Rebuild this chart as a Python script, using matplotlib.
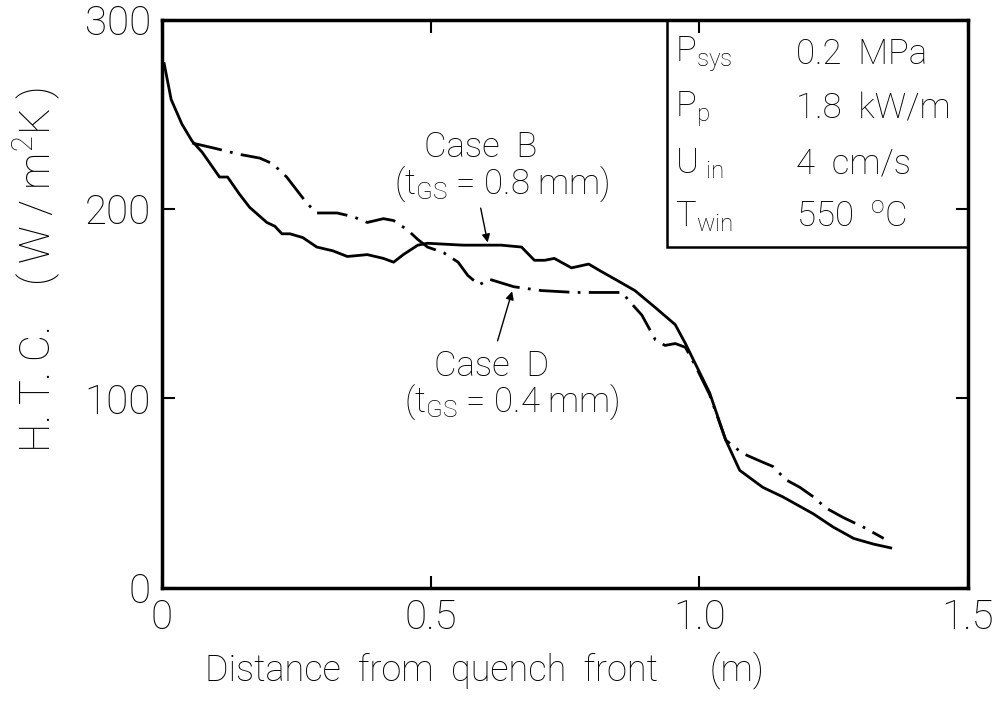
import matplotlib
matplotlib.use("Agg")
import matplotlib.pyplot as plt
from matplotlib.patches import Rectangle

# Case B (t_GS = 0.8 mm), solid line
case_b_x = [0.004, 0.017, 0.037, 0.056, 0.075, 0.107, 0.122, 0.144, 0.163, 0.195,
            0.210, 0.223, 0.238, 0.262, 0.288, 0.318, 0.345, 0.382, 0.412, 0.431,
            0.449, 0.476, 0.494, 0.560, 0.631, 0.669, 0.693, 0.712, 0.730, 0.762,
            0.794, 0.818, 0.843, 0.880, 0.918, 0.955, 0.974, 0.993, 1.019, 1.049,
            1.075, 1.118, 1.155, 1.212, 1.249, 1.287, 1.324, 1.356]
case_b_y = [277, 258, 245, 236, 230, 217, 217, 208, 201, 193,
            191, 187, 187, 185, 180, 178, 175, 176, 174, 172,
            176, 181, 182, 181, 181, 180, 173, 173, 174, 169,
            171, 167, 163, 157, 148, 139, 129, 118, 103, 78,
            62, 53, 48, 39, 32, 26, 23, 21]

# Case D (t_GS = 0.4 mm), dash-dot line
case_d_x = [0.056, 0.101, 0.144, 0.182, 0.206, 0.232, 0.251, 0.270, 0.288, 0.307,
            0.326, 0.356, 0.382, 0.412, 0.431, 0.457, 0.476, 0.494, 0.524, 0.551,
            0.569, 0.590, 0.609, 0.655, 0.706, 0.768, 0.837, 0.856, 0.874, 0.893,
            0.918, 0.936, 0.955, 0.974, 0.993, 1.019, 1.049, 1.080, 1.112, 1.137,
            1.161, 1.187, 1.212, 1.236, 1.268, 1.305, 1.343]
case_d_y = [235, 232, 229, 227, 224, 217, 210, 203, 198, 198,
            198, 196, 193, 195, 194, 189, 184, 180, 177, 172,
            165, 160, 163, 159, 157, 156, 156, 156, 150, 144,
            131, 128, 129, 127, 117, 102, 78, 71, 67, 64,
            57, 53, 48, 42, 37, 32, 26]

x_ticks = [0, 0.5, 1.0, 1.5]
x_tick_labels = ["0", "0.5", "1.0", "1.5"]
y_ticks = [0, 100, 200, 300]
y_tick_labels = ["0", "100", "200", "300"]

table_names = [r"P$_{\rm sys}$", r"P$_{\rm p}$", r"U$_{\rm\ in}$", r"T$_{\rm win}$"]
table_values = ["0.2  MPa", "1.8  kW/m", "4  cm/s", r"550  $^{\rm o}$C"]

plt.rcParams["font.family"] = ["Roboto", "DejaVu Sans"]
plt.rcParams["font.weight"] = "light"
plt.rcParams["axes.labelweight"] = "light"
plt.rcParams["mathtext.fontset"] = "custom"
plt.rcParams["mathtext.rm"] = "Roboto:light"
plt.rcParams["mathtext.it"] = "Roboto:light"

fig = plt.figure(figsize=(9.97, 7.14), dpi=100)
ax = fig.add_axes([0.1625, 0.177, 0.8085, 0.795])

ax.plot(case_b_x, case_b_y, color="black", lw=2.0, solid_joinstyle="round")
ax.plot(case_d_x, case_d_y, color="black", lw=2.0,
        linestyle=(0, (11, 3, 1, 3)))

ax.set_xlim(0, 1.5)
ax.set_ylim(0, 300)
ax.set_xticks(x_ticks)
ax.set_xticklabels(x_tick_labels)
ax.set_yticks(y_ticks)
ax.set_yticklabels(y_tick_labels)
ax.tick_params(direction="in", length=9, width=1.5, labelsize=29,
               top=True, right=True, pad=8)
for spine in ax.spines.values():
    spine.set_linewidth(2.5)

ax.set_xlabel("Distance  from  quench  front      (m)", fontsize=26,
              fontweight="light")
ax.xaxis.set_label_coords(0.40, -0.112)
ax.set_ylabel(r"H. T. C.    ( W / m$^{\rm 2}$K )", fontsize=30,
              fontweight="light")
ax.yaxis.set_label_coords(-0.124, 0.56)

# condition box in the upper right corner
ax.add_patch(Rectangle((0.94, 180), 0.56, 120, fill=False, lw=1.8,
                       edgecolor="black", clip_on=False))
row_y = [282, 253, 224, 196]
for name, value, yy in zip(table_names, table_values, row_y):
    ax.text(0.955, yy, name, fontsize=25, va="center", ha="left")
    ax.text(1.18, yy, value, fontsize=25, va="center", ha="left")

# annotations
ax.text(0.592, 233, "Case  B", fontsize=25, ha="center", va="center")
ax.text(0.633, 213, r"(t$_{\rm GS}$ = 0.8 mm)", fontsize=25, ha="center", va="center")
ax.annotate("", xy=(0.607, 181), xytext=(0.592, 202),
            arrowprops=dict(arrowstyle="-|>", color="black", lw=1.0,
                            mutation_scale=12))
ax.text(0.614, 117, "Case  D", fontsize=25, ha="center", va="center")
ax.text(0.651, 98, r"(t$_{\rm GS}$ = 0.4 mm)", fontsize=25, ha="center", va="center")
ax.annotate("", xy=(0.653, 158), xytext=(0.623, 129),
            arrowprops=dict(arrowstyle="-|>", color="black", lw=1.0,
                            mutation_scale=12))

fig.savefig("out.png", dpi=100)
